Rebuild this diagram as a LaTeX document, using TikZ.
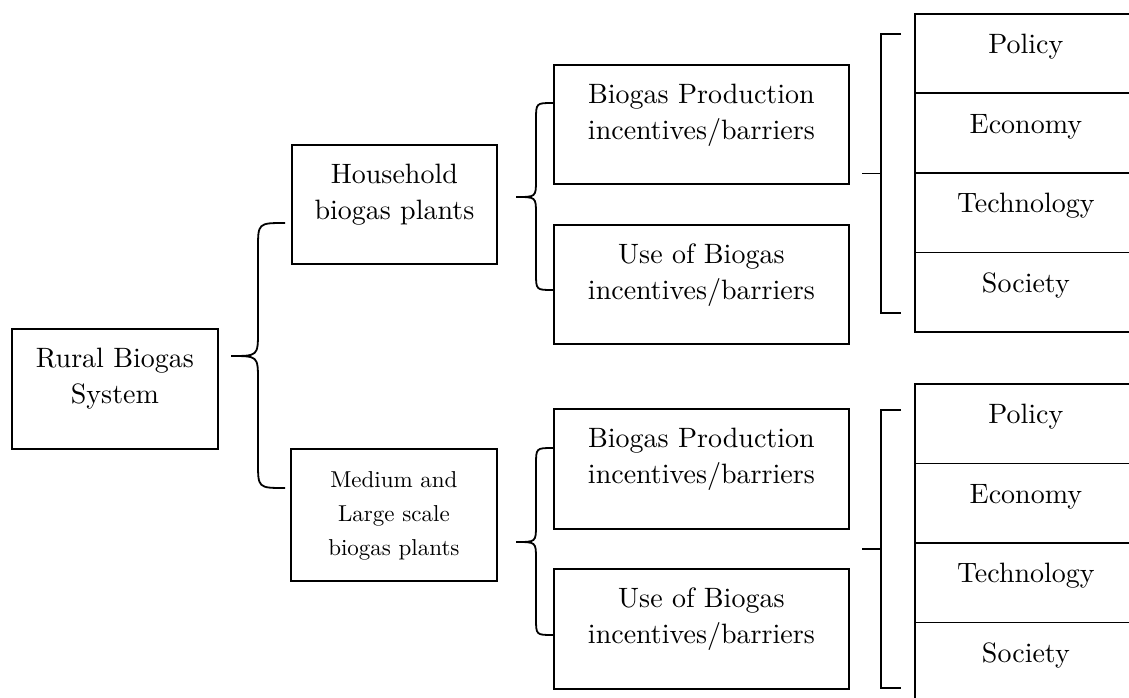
\documentclass[tikz,border=0pt]{standalone}
\usepackage{fontspec}
\setmainfont{lmroman10-regular.otf}
\usepackage{tikz}

\tikzset{
  box/.style={draw, line width=1.8pt, inner sep=0pt, anchor=north west, align=center,
    font=\fontsize{28}{36}\selectfont, text height=39pt},
  brace/.style={line width=1.8pt},
}

\begin{document}
\begin{tikzpicture}[x=1pt,y=-1pt]
	\useasboundingbox (0,0) rectangle (1129,698);
	\clip (0,0) rectangle (1129,698);
	% left column
	\node[box, text width=206pt, text depth=81pt] (rural) at (11,328) {Rural Biogas\\System};
	\node[box, text width=205pt, text depth=80pt] (house) at (291,144) {Household\\biogas plants};
	\node[box, text width=206pt, text depth=93pt, font=\fontsize{23}{34}\selectfont] (medium) at (290,448) {Medium and\\Large scale\\biogas plants};
	% incentives / barriers
	\node[box, text width=295pt, text depth=80pt] (prodA) at (553,64) {Biogas Production\\incentives/barriers};
	\node[box, text width=295pt, text depth=80pt] (useA) at (553,224) {Use of Biogas\\incentives/barriers};
	\node[box, text width=295pt, text depth=81pt] (prodB) at (553,408) {Biogas Production\\incentives/barriers};
	\node[box, text width=295pt, text depth=81pt] (useB) at (553,568) {Use of Biogas\\incentives/barriers};
	% aspects
	\foreach \name [count=\i from 0] in {Policy,Economy,Technology,Society}{
		\node[box, text width=222pt, text height=40pt, text depth=39.5pt] (top\i) at (914,{13+79.5*\i}) {\name};
		\node[box, text width=222pt, text height=40pt, text depth=39.5pt] (bot\i) at (914,{383+79.5*\i}) {\name};
	}
	% braces
	\draw[brace] (285,223) .. controls (258,223) .. (258,249) -- (258,331) .. controls (258,356) .. (231,356)
		.. controls (258,356) .. (258,381) -- (258,462) .. controls (258,488) .. (285,488);
	\foreach \dy in {0,345}{
		\draw[brace] (553,103+\dy) .. controls (536,103+\dy) .. (536,120+\dy) -- (536,180+\dy)
			.. controls (536,197+\dy) .. (516,197+\dy) .. controls (536,197+\dy) .. (536,214+\dy)
			-- (536,273+\dy) .. controls (536,290+\dy) .. (553,290+\dy);
	}
	% brackets
	\draw[brace] (901,34) -- (881,34) -- (881,313) -- (901,313) (862,173.5) -- (881,173.5);
	\draw[brace] (901,410) -- (881,410) -- (881,688) -- (901,688) (862,549) -- (881,549);
\end{tikzpicture}
\end{document}
